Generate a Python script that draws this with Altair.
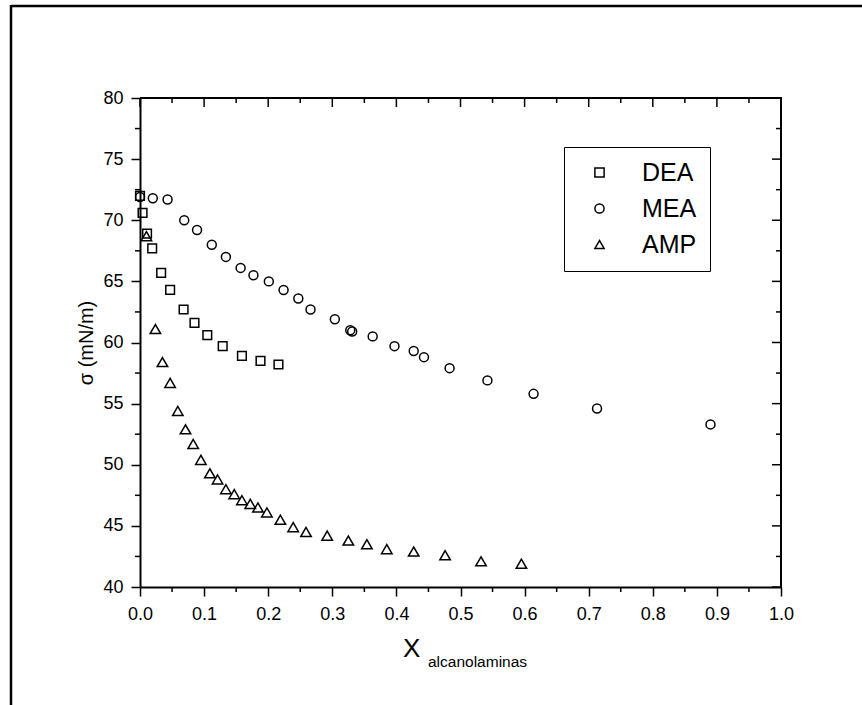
import altair as alt
import pandas as pd

# ---- data ----
dea_x = [0.000, 0.004, 0.011, 0.019, 0.033, 0.047, 0.068, 0.085, 0.105, 0.129, 0.159, 0.188, 0.216]
dea_y = [72.0, 70.6, 68.9, 67.7, 65.7, 64.3, 62.7, 61.6, 60.6, 59.7, 58.9, 58.5, 58.2]

mea_x = [0.000, 0.020, 0.043, 0.069, 0.089, 0.112, 0.134, 0.157, 0.177, 0.201, 0.224, 0.247,
         0.266, 0.304, 0.328, 0.331, 0.363, 0.397, 0.427, 0.443, 0.483, 0.542, 0.614, 0.713, 0.890]
mea_y = [71.9, 71.8, 71.7, 70.0, 69.2, 68.0, 67.0, 66.1, 65.5, 65.0, 64.3, 63.6,
         62.7, 61.9, 61.0, 60.9, 60.5, 59.7, 59.3, 58.8, 57.9, 56.9, 55.8, 54.6, 53.3]

amp_x = [0.010, 0.024, 0.035, 0.047, 0.059, 0.071, 0.083, 0.095, 0.109, 0.121, 0.134, 0.147,
         0.159, 0.172, 0.184, 0.198, 0.219, 0.239, 0.259, 0.292, 0.325, 0.354, 0.385, 0.427,
         0.476, 0.532, 0.595]
amp_y = [68.7, 61.1, 58.4, 56.7, 54.4, 52.9, 51.7, 50.4, 49.3, 48.8, 48.0, 47.6,
         47.1, 46.8, 46.5, 46.1, 45.5, 44.9, 44.5, 44.2, 43.8, 43.5, 43.1, 42.9,
         42.6, 42.1, 41.9]

series = ["DEA", "MEA", "AMP"]
shapes = ["square", "circle", "triangle-up"]
sizes = {"DEA": 75, "MEA": 80, "AMP": 110}

x_major = [round(0.1 * i, 1) for i in range(11)]
x_minor = [round(0.05 + 0.1 * i, 2) for i in range(10)]
y_major = [40, 45, 50, 55, 60, 65, 70, 75, 80]
y_minor = [42.5, 47.5, 52.5, 57.5, 62.5, 67.5, 72.5, 77.5]

rows = []
for name, xs, ys in [("DEA", dea_x, dea_y), ("MEA", mea_x, mea_y), ("AMP", amp_x, amp_y)]:
    for a, b in zip(xs, ys):
        rows.append({"x": a, "y": b, "series": name})
df = pd.DataFrame(rows)

W, H = 641, 489
FONT = "Liberation Sans"

xs_scale = alt.Scale(domain=[0, 1], nice=False, zero=False)
ys_scale = alt.Scale(domain=[40, 80], nice=False, zero=False)

legend = alt.Legend(title=None, orient="none", legendX=424, legendY=49,
                    strokeColor="black", fillColor="white", padding=13,
                    symbolOffset=10, labelOffset=30, labelFontSize=25,
                    labelFont=FONT, labelColor="black", rowPadding=10,
                    symbolSize=85, symbolStrokeColor="black",
                    symbolStrokeWidth=1.5)

x_axis = alt.Axis(orient="bottom", values=x_major, format=".1f", tickSize=9,
                  labelPadding=9, title=None, labelFlush=False, labelOverlap=False)
y_axis = alt.Axis(orient="left", values=y_major, tickSize=9, labelPadding=8,
                  title="σ (mN/m)", titleFontSize=20, titlePadding=6,
                  labelFlush=False, labelOverlap=False)

point_layers = []
for name in series:
    point_layers.append(
        alt.Chart(df).transform_filter(alt.datum.series == name)
        .mark_point(filled=False, opacity=1, strokeWidth=1.5, color="black", size=sizes[name])
        .encode(
            x=alt.X("x:Q", scale=xs_scale, axis=x_axis),
            y=alt.Y("y:Q", scale=ys_scale, axis=y_axis),
            shape=alt.Shape("series:N", scale=alt.Scale(domain=series, range=shapes),
                            legend=legend),
        )
    )

xmaj = alt.Chart(pd.DataFrame({"v": x_major}))
xmin = alt.Chart(pd.DataFrame({"v": x_minor}))
ymaj = alt.Chart(pd.DataFrame({"v": y_major}))
ymin = alt.Chart(pd.DataFrame({"v": y_minor}))

def xt(c, y0, y1):
    return c.mark_rule(color="black", strokeWidth=1.5).encode(
        x=alt.X("v:Q", scale=xs_scale, axis=x_axis), y=alt.value(y0), y2=alt.value(y1))

def yt(c, x0, x1):
    return c.mark_rule(color="black", strokeWidth=1.5).encode(
        y=alt.Y("v:Q", scale=ys_scale, axis=y_axis), x=alt.value(x0), x2=alt.value(x1))

ticks = [
    xt(xmaj, 0, 9),          # top major (inward)
    xt(xmin, 0, 5),          # top minor (inward)
    xt(xmin, H, H + 5),      # bottom minor (outward)
    yt(ymaj, W - 9, W),      # right major (inward)
    yt(ymin, W - 5, W),      # right minor (inward)
    yt(ymin, -5, 0),         # left minor (outward)
]

one = alt.Chart(pd.DataFrame({"k": [0]}))

top_line = one.mark_rule(color="black", strokeWidth=2).encode(
    x=alt.value(0), x2=alt.value(W), y=alt.value(0))
right_line = one.mark_rule(color="black", strokeWidth=2).encode(
    x=alt.value(W), y=alt.value(-1), y2=alt.value(H + 1))

x_title = one.mark_text(align="left", baseline="alphabetic", fontSize=26, font=FONT,
                        color="black").encode(
    x=alt.value(263), y=alt.value(559), text=alt.value("X"))
x_sub = one.mark_text(align="left", baseline="alphabetic", fontSize=15.5, font=FONT,
                      color="black").encode(
    x=alt.value(288), y=alt.value(569), text=alt.value("alcanolaminas"))

frame_top = one.mark_rule(color="black", strokeWidth=2.5).encode(
    x=alt.value(-129), x2=alt.value(730), y=alt.value(-92))
frame_left = one.mark_rule(color="black", strokeWidth=2.5).encode(
    x=alt.value(-129), y=alt.value(-93), y2=alt.value(620))

chart = alt.layer(
    *point_layers, *ticks, top_line, right_line, x_title, x_sub, frame_top, frame_left
).properties(
    width=W, height=H,
    autosize=alt.AutoSizeParams(type="none"),
    padding={"left": 140, "top": 98, "right": 81, "bottom": 118},
    background="white",
).configure_view(
    stroke="transparent"
).configure_axis(
    grid=False, domainColor="black", tickColor="black", labelColor="black",
    titleColor="black", labelFont=FONT, titleFont=FONT, labelFontSize=18,
    titleFontWeight="normal", domainWidth=2, tickWidth=1.5,
)

chart.save("out.html", embed_options={"renderer": "svg", "actions": False})
